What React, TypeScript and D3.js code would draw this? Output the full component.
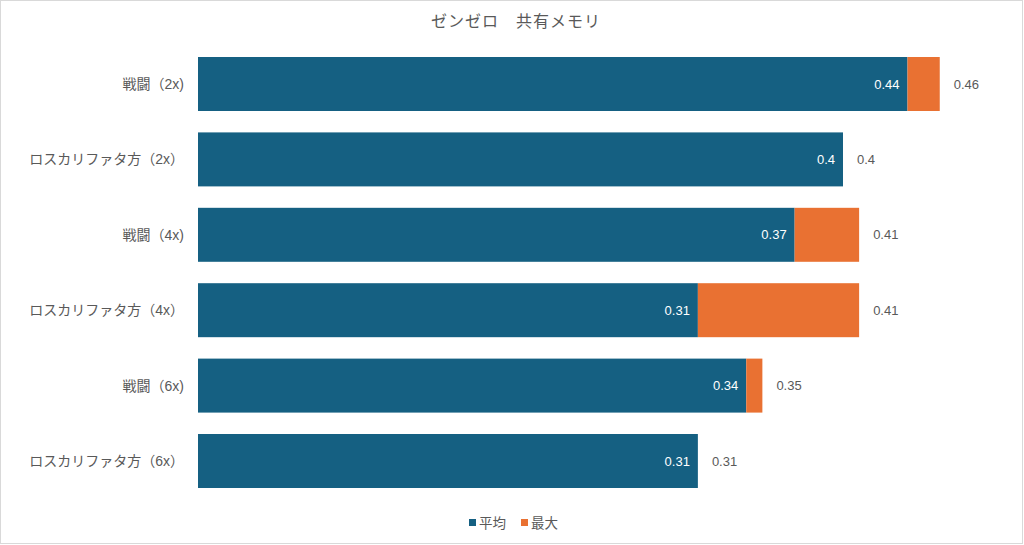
import React from "react";
import * as d3 from "d3";

const categories = [
  "戦闘（2x)",
  "ロスカリファタ方（2x）",
  "戦闘（4x)",
  "ロスカリファタ方（4x）",
  "戦闘（6x)",
  "ロスカリファタ方（6x）",
];
const avgValues = [0.44, 0.4, 0.37, 0.31, 0.34, 0.31];
const maxValues = [0.46, 0.4, 0.41, 0.41, 0.35, 0.31];
const seriesNames = ["平均", "最大"];
const title = "ゼンゼロ　共有メモリ";

const W = 1024;
const H = 545;
const BLUE = "#156082";
const ORANGE = "#E97132";
const TEXT = "#595959";
const FONT = "'Liberation Sans', 'Noto Sans CJK JP', sans-serif";

export default function App() {
  const x = d3.scaleLinear().domain([0, 0.4]).range([198, 843]);
  const y = d3
    .scaleBand()
    .domain(categories)
    .range([46.3, 498.7])
    .paddingInner(0.284)
    .paddingOuter(0.142);

  const rows = categories.map((c, i) => ({
    cat: c,
    avg: avgValues[i],
    max: maxValues[i],
  }));

  return (
    <>
      <style>{`body{margin:0}`}</style>
      <svg width={W} height={H} style={{ display: "block", fontFamily: FONT }}>
        <rect x={0.5} y={0.5} width={W - 2} height={H - 2} fill="#fff" stroke="#d9d9d9" />
        <text
          x={516}
          y={27}
          textAnchor="middle"
          fontSize={16}
          letterSpacing={1}
          fill={TEXT}
        >
          {title}
        </text>

        {rows.map((d) => {
          const y0 = y(d.cat)!;
          const bh = y.bandwidth();
          const cy = y0 + bh / 2;
          return (
            <g key={d.cat}>
              <text
                x={184}
                y={cy}
                dy="0.35em"
                textAnchor="end"
                fontSize={14}
                fill={TEXT}
              >
                {d.cat}
              </text>
              <rect x={x(0)} y={y0} width={x(d.avg) - x(0)} height={bh} fill={BLUE} />
              {d.max > d.avg && (
                <rect
                  x={x(d.avg)}
                  y={y0}
                  width={x(d.max) - x(d.avg)}
                  height={bh}
                  fill={ORANGE}
                />
              )}
              <text
                x={x(d.avg) - 8}
                y={cy}
                dy="0.35em"
                textAnchor="end"
                fontSize={13}
                fill="#fff"
              >
                {d.avg}
              </text>
              <text x={x(d.max) + 14} y={cy} dy="0.35em" fontSize={13} fill={TEXT}>
                {d.max}
              </text>
            </g>
          );
        })}

        <g fontSize={13.5} fill={TEXT}>
          <rect x={469} y={519} width={7} height={7} fill={BLUE} />
          <text x={479} y={523} dy="0.35em">
            {seriesNames[0]}
          </text>
          <rect x={521} y={519} width={7} height={7} fill={ORANGE} />
          <text x={531} y={523} dy="0.35em">
            {seriesNames[1]}
          </text>
        </g>
      </svg>
    </>
  );
}
